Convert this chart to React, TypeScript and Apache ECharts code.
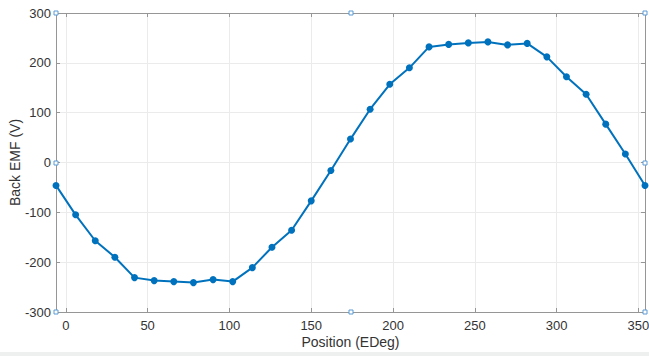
import React, { useEffect, useRef } from "react";
import * as echarts from "echarts";

const positions = [-6, 6, 18, 30, 42, 54, 66, 78, 90, 102, 114, 126, 138, 150, 162, 174, 186, 198, 210, 222, 234, 246, 258, 270, 282, 294, 306, 318, 330, 342, 354];
const backEmf = [-46, -105, -157, -190, -231, -237, -239, -241, -235, -239, -211, -170, -136, -77, -16, 47, 107, 157, 190, 232, 237, 240, 242, 236, 239, 212, 172, 137, 77, 17, -46];
const xRange = [-6, 354];
const yRange = [-300, 300];
const yTickStep = 100;
const xTickStep = 50;

export default function App() {
  const ref = useRef<HTMLDivElement>(null);
  useEffect(() => {
    if (!ref.current) return;
    const chart = echarts.init(ref.current, null, { renderer: "svg" });
    const font = "'Liberation Sans', Arial, Helvetica, sans-serif";
    const axisColor = "#969696";
    const labelColor = "#333333";
    const gridColor = "#ebebeb";
    const gl = 56, gr = 4, gt = 13, gb = 44;
    const W = 649, H = 356;
    const xl = gl, xr = W - gr, yt = gt, yb = H - gb;
    const xm = Math.round((xl + xr) / 2), ym = Math.round((yt + yb) / 2);
    const handles = [
      [xl, yt], [xm, yt], [xr, yt],
      [xl, ym], [xr, ym],
      [xl, yb], [xm, yb], [xr, yb],
    ].map(([x, y]) => ({
      type: "rect",
      shape: { x: x - 2, y: y - 2, width: 4, height: 4 },
      style: { fill: "#ffffff", stroke: "#5b9bd5", lineWidth: 1 },
      z: 100,
    }));
    const xCommon = {
      type: "value",
      min: xRange[0],
      max: xRange[1],
      splitNumber: 7,
      minInterval: xTickStep,
      maxInterval: xTickStep,
    };
    const yCommon = {
      type: "value",
      min: yRange[0],
      max: yRange[1],
      interval: yTickStep,
    };
    chart.setOption({
      animation: false,
      backgroundColor: "#ffffff",
      grid: { left: gl, right: gr, top: gt, bottom: gb, containLabel: false, outerBoundsMode: "none" },
      xAxis: [
        {
          ...xCommon,
          position: "bottom",
          name: "Position (EDeg)",
          nameLocation: "middle",
          nameGap: 23,
          nameMoveOverlap: false,
          nameTextStyle: { fontFamily: font, fontSize: 14, color: labelColor },
          axisLine: { show: true, onZero: false, lineStyle: { color: axisColor, width: 1 } },
          axisTick: { show: true, inside: true, length: 4, lineStyle: { color: axisColor } },
          axisLabel: {
            fontFamily: font, fontSize: 13, color: labelColor, margin: 7,
            showMinLabel: false, showMaxLabel: false, hideOverlap: false,
            formatter: (v: number) => (v % xTickStep === 0 ? String(v) : ""),
          },
          splitLine: { show: true, lineStyle: { color: gridColor, width: 1 } },
        },
        {
          ...xCommon,
          position: "top",
          axisLine: { show: true, onZero: false, lineStyle: { color: axisColor, width: 1 } },
          axisTick: { show: true, inside: true, length: 4, lineStyle: { color: axisColor } },
          axisLabel: { show: false },
          splitLine: { show: false },
        },
      ],
      yAxis: [
        {
          ...yCommon,
          position: "left",
          name: "Back EMF (V)",
          nameLocation: "middle",
          nameGap: 34,
          nameMoveOverlap: false,
          nameTextStyle: { fontFamily: font, fontSize: 14, color: labelColor },
          axisLine: { show: true, onZero: false, lineStyle: { color: axisColor, width: 1 } },
          axisTick: { show: true, inside: true, length: 4, lineStyle: { color: axisColor } },
          axisLabel: { fontFamily: font, fontSize: 13, color: labelColor, margin: 5 },
          splitLine: { show: true, lineStyle: { color: gridColor, width: 1 } },
        },
        {
          ...yCommon,
          position: "right",
          axisLine: { show: true, onZero: false, lineStyle: { color: axisColor, width: 1 } },
          axisTick: { show: true, inside: true, length: 4, lineStyle: { color: axisColor } },
          axisLabel: { show: false },
          splitLine: { show: false },
        },
      ],
      series: [
        {
          type: "line",
          xAxisIndex: 0,
          yAxisIndex: 0,
          data: positions.map((p, i) => [p, backEmf[i]]),
          symbol: "circle",
          symbolSize: 7,
          lineStyle: { color: "#0072BD", width: 2 },
          itemStyle: { color: "#0072BD" },
          clip: false,
          z: 10,
        },
      ],
      graphic: [
        {
          type: "rect",
          shape: { x: 0, y: H - 4, width: W, height: 4 },
          style: { fill: "#eef0f0" },
          z: 0,
        },
        ...handles,
      ],
    });
    return () => chart.dispose();
  }, []);
  return <div ref={ref} style={{ width: 649, height: 356, position: "fixed", left: 0, top: 0 }} />;
}
